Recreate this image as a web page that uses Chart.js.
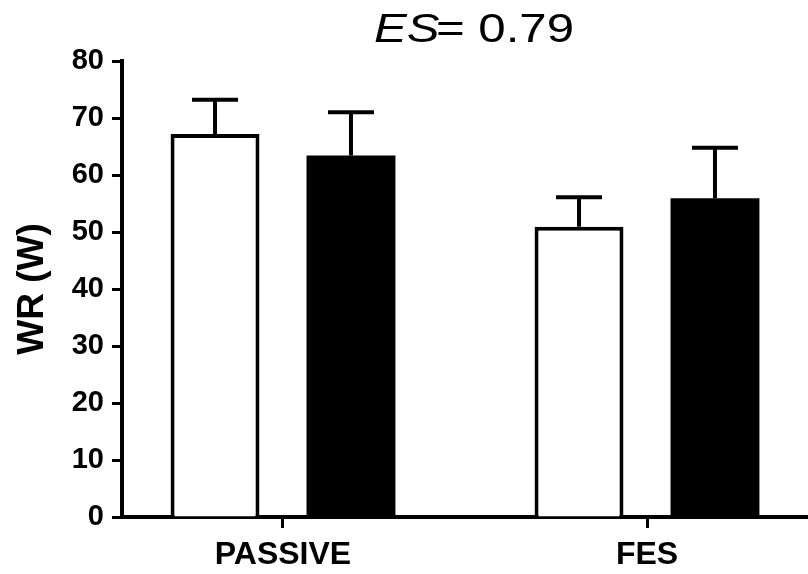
<!DOCTYPE html>
<html lang="en">
<head>
    <meta charset="UTF-8">
    <title>WR (W) - PASSIVE vs FES</title>
    <style>
        body {
            margin: 0;
            padding: 0;
            background-color: #fff;
        }

        canvas {
            display: block;
        }
    </style>
    <script src="https://cdn.jsdelivr.net/npm/chart.js"></script>
</head>
<body>

<canvas id="wrChart" width="808" height="574"></canvas>

<script>
    // Data
    const categories = ['PASSIVE', 'FES'];
    const whiteMeans = [67.2, 50.9];
    const whiteSD = [6.0, 5.2];
    const blackMeans = [63.4, 55.9];
    const blackSD = [7.6, 8.9];
    const yTicks = [0, 10, 20, 30, 40, 50, 60, 70, 80];
    const titleItalic = 'ES';
    const titleRest = '= 0.79';

    const FONT = "'Liberation Sans', Arial, sans-serif";

    // Upward-only error bars with a cap
    const errorBars = {
        id: 'errorBars',
        afterDatasetsDraw(chart) {
            const ctx = chart.ctx;
            const yScale = chart.scales.y;
            const sds = [whiteSD, blackSD];
            const means = [whiteMeans, blackMeans];
            ctx.save();
            ctx.strokeStyle = '#000';
            ctx.lineWidth = 4;
            chart.data.datasets.forEach((ds, i) => {
                const meta = chart.getDatasetMeta(i);
                meta.data.forEach((bar, j) => {
                    const top = yScale.getPixelForValue(means[i][j] + sds[i][j]);
                    ctx.beginPath();
                    ctx.moveTo(bar.x, bar.y);
                    ctx.lineTo(bar.x, top);
                    ctx.moveTo(bar.x - 23, top);
                    ctx.lineTo(bar.x + 23, top);
                    ctx.stroke();
                });
            });
            ctx.restore();
        }
    };

    // Title with italic "ES"
    const esTitle = {
        id: 'esTitle',
        afterDraw(chart) {
            const ctx = chart.ctx;
            const sx = 1.2;
            ctx.save();
            ctx.fillStyle = '#000';
            ctx.textBaseline = 'alphabetic';
            ctx.font = 'italic 41px ' + FONT;
            const w1 = ctx.measureText(titleItalic).width;
            ctx.font = '41px ' + FONT;
            const w2 = ctx.measureText(titleRest).width;
            const total = (w1 + w2 - 3) * sx;
            ctx.translate(474 - total / 2, 42);
            ctx.scale(sx, 1);
            ctx.font = 'italic 41px ' + FONT;
            ctx.fillText(titleItalic, 0, 0);
            ctx.font = '41px ' + FONT;
            ctx.fillText(titleRest, w1 - 3, 0);
            ctx.restore();
        }
    };

    const ctx = document.getElementById('wrChart').getContext('2d');
    const wrChart = new Chart(ctx, {
        type: 'bar',
        data: {
            datasets: [
                {
                    label: 'white',
                    data: whiteMeans.map((v, i) => ({ x: i + 1, y: v })),
                    backgroundColor: '#fff',
                    borderColor: '#000',
                    borderWidth: 4,
                    categoryPercentage: 0.747,
                    barPercentage: 0.654
                },
                {
                    label: 'black',
                    data: blackMeans.map((v, i) => ({ x: i + 1, y: v })),
                    backgroundColor: '#000',
                    borderColor: '#000',
                    borderWidth: 0,
                    categoryPercentage: 0.747,
                    barPercentage: 0.654
                }
            ]
        },
        options: {
            responsive: false,
            animation: false,
            layout: { padding: { top: 61, right: 0, bottom: 0, left: 0 } },
            plugins: {
                legend: { display: false },
                tooltip: { enabled: false }
            },
            scales: {
                x: {
                    type: 'linear',
                    offset: false,
                    min: 0.5577,
                    max: 2.4423,
                    afterBuildTicks: (scale) => {
                        scale.ticks = categories.map((c, i) => ({ value: i + 1 }));
                    },
                    afterFit: (scale) => { scale.height = 57; },
                    border: { display: true, color: '#000', width: 4 },
                    grid: {
                        offset: false,
                        drawOnChartArea: false,
                        drawTicks: true,
                        tickLength: 11,
                        tickWidth: 3,
                        tickColor: '#000'
                    },
                    ticks: {
                        color: '#000',
                        padding: 8,
                        font: { family: FONT, size: 32, weight: 'bold' },
                        callback: (value, index) => categories[index]
                    }
                },
                y: {
                    min: 0,
                    max: 80,
                    afterBuildTicks: (scale) => {
                        scale.ticks = yTicks.map(v => ({ value: v }));
                    },
                    afterFit: (scale) => { scale.width = 122; },
                    border: { display: true, color: '#000', width: 4 },
                    grid: {
                        drawOnChartArea: false,
                        drawTicks: true,
                        tickLength: 10,
                        tickWidth: 3,
                        tickColor: '#000'
                    },
                    ticks: {
                        color: '#000',
                        padding: 8,
                        font: { family: FONT, size: 29, weight: 'bold' }
                    },
                    title: {
                        display: true,
                        text: 'WR (W)',
                        color: '#000',
                        padding: { top: 11, bottom: 0 },
                        font: { family: FONT, size: 37, weight: 'bold' }
                    }
                }
            }
        },
        plugins: [errorBars, esTitle]
    });
</script>

</body>
</html>
